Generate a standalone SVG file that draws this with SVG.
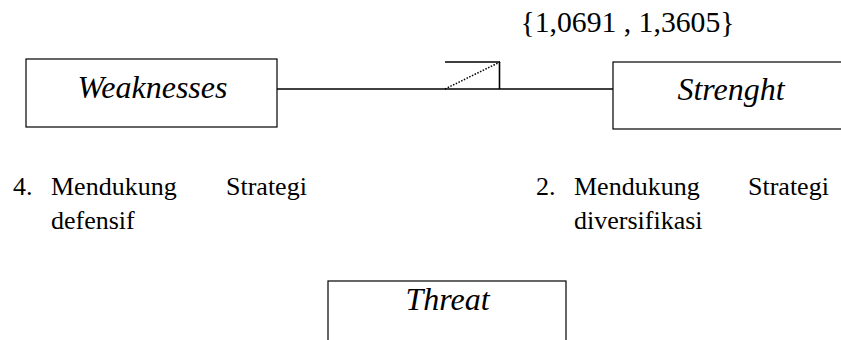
<svg xmlns="http://www.w3.org/2000/svg" width="841" height="340" viewBox="0 0 841 340">
<style>
.box{fill:#fff;stroke:#000;stroke-width:1.2}
.lbl{font-family:"Liberation Serif","Times New Roman",serif;font-style:italic;font-size:32px;fill:#000}
.txt{font-family:"Liberation Serif","Times New Roman",serif;font-size:26px;fill:#000}
.val{font-family:"Liberation Serif","Times New Roman",serif;font-size:29.7px;fill:#000}
.ln{stroke:#000;stroke-width:1.6;fill:none}
</style>
<rect width="841" height="340" fill="#fff"/>
<g id="connectors">
<line class="ln" x1="277" y1="89" x2="613" y2="89"/>
<line class="ln" x1="445" y1="62" x2="500" y2="62"/>
<line class="ln" x1="499.5" y1="62" x2="499.5" y2="89"/>
<line x1="445" y1="89" x2="500" y2="62" stroke="#000" stroke-width="1.5" stroke-dasharray="1.5,1.5"/>
</g>
<g id="value"><text class="val" x="627.5" y="32" text-anchor="middle">{1,0691 , 1,3605}</text></g>
<g id="weaknesses">
<rect class="box" x="26" y="59" width="251" height="68"/>
<text class="lbl" x="152.5" y="98" text-anchor="middle">Weaknesses</text>
</g>
<g id="strenght">
<rect class="box" x="613" y="62" width="240" height="67"/>
<text class="lbl" x="731" y="100" text-anchor="middle">Strenght</text>
</g>
<g id="note-left">
<text class="txt" x="13" y="195">4.</text>
<text class="txt" x="51" y="195">Mendukung</text>
<text class="txt" x="226" y="195">Strategi</text>
<text class="txt" x="51" y="229">defensif</text>
</g>
<g id="note-right">
<text class="txt" x="536" y="195">2.</text>
<text class="txt" x="574" y="195">Mendukung</text>
<text class="txt" x="748" y="195">Strategi</text>
<text class="txt" x="574" y="229">diversifikasi</text>
</g>
<g id="threat">
<rect class="box" x="328" y="281" width="238" height="70"/>
<text class="lbl" x="447.5" y="310" text-anchor="middle">Threat</text>
</g>
</svg>
